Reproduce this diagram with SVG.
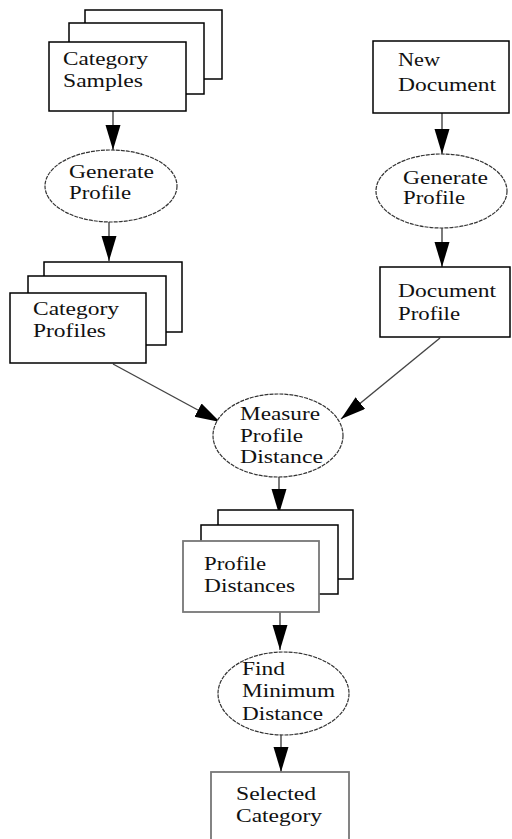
<svg xmlns="http://www.w3.org/2000/svg" width="512" height="839" viewBox="0 0 512 839">
<defs>
<style>
.box{fill:#fff;stroke:#000;stroke-width:1.5}
.gbox{fill:#fff;stroke:#777;stroke-width:1.8}
.ell{fill:#fff;stroke:#333;stroke-width:1.2;stroke-dasharray:4 1}
.t{font-family:"Liberation Serif","Times New Roman",serif;font-size:18px;fill:#111}
.ln{stroke:#444;stroke-width:1.4;fill:none}
</style>
<marker id="ah" markerUnits="userSpaceOnUse" markerWidth="26" markerHeight="16" refX="25" refY="7.5" orient="auto" viewBox="0 0 26 16">
<path d="M0,0 L25,7.5 L0,15 z" fill="#000"/>
</marker>
</defs>
<rect width="512" height="839" fill="#fff"/>
<g id="connectors">
<line class="ln" x1="113" y1="111" x2="113" y2="150" marker-end="url(#ah)"/>
<line class="ln" x1="109" y1="222" x2="109" y2="261" marker-end="url(#ah)"/>
<line class="ln" x1="442" y1="113" x2="442" y2="154" marker-end="url(#ah)"/>
<line class="ln" x1="442" y1="228" x2="442" y2="267" marker-end="url(#ah)"/>
<line class="ln" x1="113" y1="364" x2="220" y2="422" marker-end="url(#ah)"/>
<line class="ln" x1="440" y1="338" x2="341" y2="419" marker-end="url(#ah)"/>
<line class="ln" x1="279" y1="477" x2="279" y2="514" marker-end="url(#ah)"/>
<line class="ln" x1="280" y1="612" x2="280" y2="650" marker-end="url(#ah)"/>
<line class="ln" x1="281" y1="735" x2="281" y2="772" marker-end="url(#ah)"/>
</g>
<g id="category-samples">
<rect class="box" x="85" y="10" width="137" height="69"/>
<rect class="box" x="69" y="23" width="135" height="71"/>
<rect class="box" x="49" y="42" width="137" height="69"/>
<text class="t" x="63" y="65" textLength="85" lengthAdjust="spacingAndGlyphs">Category</text>
<text class="t" x="63" y="87" textLength="80" lengthAdjust="spacingAndGlyphs">Samples</text>
</g>
<g id="generate-profile-1">
<ellipse class="ell" cx="111" cy="186" rx="66" ry="36"/>
<text class="t" x="69" y="178" textLength="85" lengthAdjust="spacingAndGlyphs">Generate</text>
<text class="t" x="69" y="199" textLength="62" lengthAdjust="spacingAndGlyphs">Profile</text>
</g>
<g id="category-profiles">
<rect class="box" x="44" y="262" width="138" height="70"/>
<rect class="box" x="28" y="276" width="138" height="69"/>
<rect class="box" x="10" y="293" width="136" height="70"/>
<text class="t" x="33" y="315" textLength="86" lengthAdjust="spacingAndGlyphs">Category</text>
<text class="t" x="33" y="337" textLength="73" lengthAdjust="spacingAndGlyphs">Profiles</text>
</g>
<g id="new-document">
<rect class="box" x="373" y="41" width="136" height="72"/>
<text class="t" x="398" y="66" textLength="42" lengthAdjust="spacingAndGlyphs">New</text>
<text class="t" x="398" y="91" textLength="98" lengthAdjust="spacingAndGlyphs">Document</text>
</g>
<g id="generate-profile-2">
<ellipse class="ell" cx="441.5" cy="191" rx="65.5" ry="37"/>
<text class="t" x="403" y="184" textLength="85" lengthAdjust="spacingAndGlyphs">Generate</text>
<text class="t" x="403" y="204" textLength="62" lengthAdjust="spacingAndGlyphs">Profile</text>
</g>
<g id="document-profile">
<rect class="box" x="380" y="267" width="130" height="70"/>
<text class="t" x="398" y="297" textLength="98" lengthAdjust="spacingAndGlyphs">Document</text>
<text class="t" x="398" y="320" textLength="62" lengthAdjust="spacingAndGlyphs">Profile</text>
</g>
<g id="measure-profile-distance">
<ellipse class="ell" cx="278" cy="435.5" rx="65" ry="41.5"/>
<text class="t" x="240" y="420" textLength="80" lengthAdjust="spacingAndGlyphs">Measure</text>
<text class="t" x="240" y="442" textLength="63" lengthAdjust="spacingAndGlyphs">Profile</text>
<text class="t" x="240" y="463" textLength="83" lengthAdjust="spacingAndGlyphs">Distance</text>
</g>
<g id="profile-distances">
<rect class="box" x="218" y="510" width="135" height="69"/>
<rect class="box" x="201" y="525" width="137" height="69"/>
<rect class="gbox" x="183" y="541" width="136" height="71"/>
<text class="t" x="204" y="570" textLength="62" lengthAdjust="spacingAndGlyphs">Profile</text>
<text class="t" x="204" y="592" textLength="91" lengthAdjust="spacingAndGlyphs">Distances</text>
</g>
<g id="find-minimum-distance">
<ellipse class="ell" cx="283.5" cy="693.5" rx="65.5" ry="41.5"/>
<text class="t" x="242" y="675" textLength="43" lengthAdjust="spacingAndGlyphs">Find</text>
<text class="t" x="242" y="697" textLength="93" lengthAdjust="spacingAndGlyphs">Minimum</text>
<text class="t" x="242" y="720" textLength="81" lengthAdjust="spacingAndGlyphs">Distance</text>
</g>
<g id="selected-category">
<rect class="gbox" x="211" y="772" width="138" height="80"/>
<text class="t" x="236" y="800" textLength="80" lengthAdjust="spacingAndGlyphs">Selected</text>
<text class="t" x="236" y="822" textLength="86" lengthAdjust="spacingAndGlyphs">Category</text>
</g>
</svg>
